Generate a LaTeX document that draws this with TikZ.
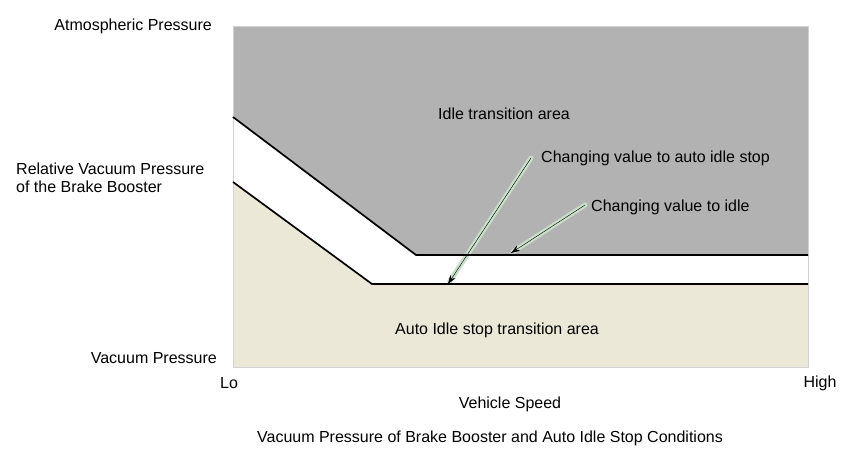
\documentclass[tikz,border=0pt]{standalone}
\usepackage{fontspec}
\setmainfont{Liberation Sans}
\usepackage{xcolor}
\usetikzlibrary{positioning}
\usetikzlibrary{arrows.meta}
\definecolor{idlegray}{RGB}{178,178,178}
\definecolor{stopbeige}{RGB}{235,232,215}
\definecolor{glowgreen}{RGB}{200,222,200}
\tikzstyle{label} = [inner sep=0pt, font=\fontsize{16}{18.5}\selectfont]
\tikzstyle{limit} = [draw, line width=1.7pt, line join=miter]
\tikzstyle{glow} = [draw=glowgreen, line width=5pt, line cap=round, shorten >=3pt]
\tikzstyle{pointer} = [draw, thin, -{Stealth[length=9pt,width=6pt]}]
\tikzset{>=stealth}

\begin{document}
\begin{tikzpicture}[x=1pt, y=-1pt]
		\useasboundingbox (0,0) rectangle (858,466);
		%% Corner points of the limits
		\coordinate (idleA) at (233,117);
		\coordinate (idleB) at (416,255);
		\coordinate (idleC) at (808,255);
		\coordinate (stopA) at (233,182);
		\coordinate (stopB) at (372,284);
		\coordinate (stopC) at (808,284);
		%% Areas
		\fill [white] (233,26) rectangle (808,367);
		\fill [idlegray] (233,26) -- (idleA) -- (idleB) -- (idleC) -- (808,26) -- cycle;
		\fill [stopbeige] (stopA) -- (stopB) -- (stopC) -- (808,367) -- (233,367) -- cycle;
		\draw [gray!35] (233,26) rectangle (808,367);
		%% Labels
		\node [label, anchor=east] (atmo) at (212,26) {Atmospheric Pressure};
		\node [label, anchor=west, align=left] (relvac) at (16,178) {Relative Vacuum Pressure\\of the Brake Booster};
		\node [label, anchor=east] (vacuum) at (217,358) {Vacuum Pressure};
		\node [label] (lo) at (229,383) {Lo};
		\node [label] (high) at (820,383) {High};
		\node [label] (speed) at (510,404) {Vehicle Speed};
		\node [label] (title) at (490,438) {Vacuum Pressure of Brake Booster and Auto Idle Stop Conditions};
		\node [label, anchor=west] (idlearea) at (438,114) {Idle transition area};
		\node [label, anchor=west] (stoparea) at (395,330) {Auto Idle stop transition area};
		\node [label, anchor=west] (tostop) at (541,158) {Changing value to auto idle stop};
		\node [label, anchor=west] (toidle) at (591,207) {Changing value to idle};
		%% Pointers
		\coordinate (tostopstart) at (531,158);
		\coordinate (toidlestart) at (585,205);
		\coordinate (tostopend) at (448,284);
		\coordinate (toidleend) at (511,253);
		\path [glow] (tostopstart) -- (tostopend);
		\path [glow] (toidlestart) -- (toidleend);
		\path [limit] (idleA) -- (idleB) -- (idleC);
		\path [limit] (stopA) -- (stopB) -- (stopC);
		\path [pointer] (tostopstart) to (tostopend);
		\path [pointer] (toidlestart) to (toidleend);
		\end{tikzpicture}
\end{document}
